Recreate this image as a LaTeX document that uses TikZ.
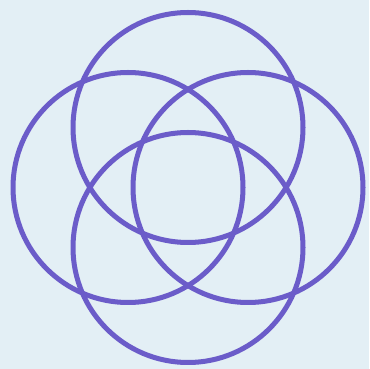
\documentclass[tikz,border=0pt]{standalone}
\definecolor{bgcol}{HTML}{E3EFF5}
\definecolor{ringcol}{HTML}{6B5CC9}
\begin{document}
\begin{tikzpicture}[ringfill/.style={fill=ringcol,draw=none}]
\fill[bgcol] (0pt,0pt) rectangle (369pt,369pt);
\useasboundingbox (0pt,0pt) rectangle (369pt,369pt);
\coordinate (c) at (188pt,181.5pt);
\foreach \dx/\dy in {0/60,0/-60,-60/0,60/0}{
  \path[ringfill] ([shift={(\dx pt+117.5pt,\dy pt)}]c)
     arc[start angle=0,end angle=360,radius=117.5pt] -- cycle
     ([shift={(\dx pt+112.5pt,\dy pt)}]c)
     arc[start angle=360,end angle=0,radius=112.5pt] -- cycle;
}
\end{tikzpicture}
\end{document}
